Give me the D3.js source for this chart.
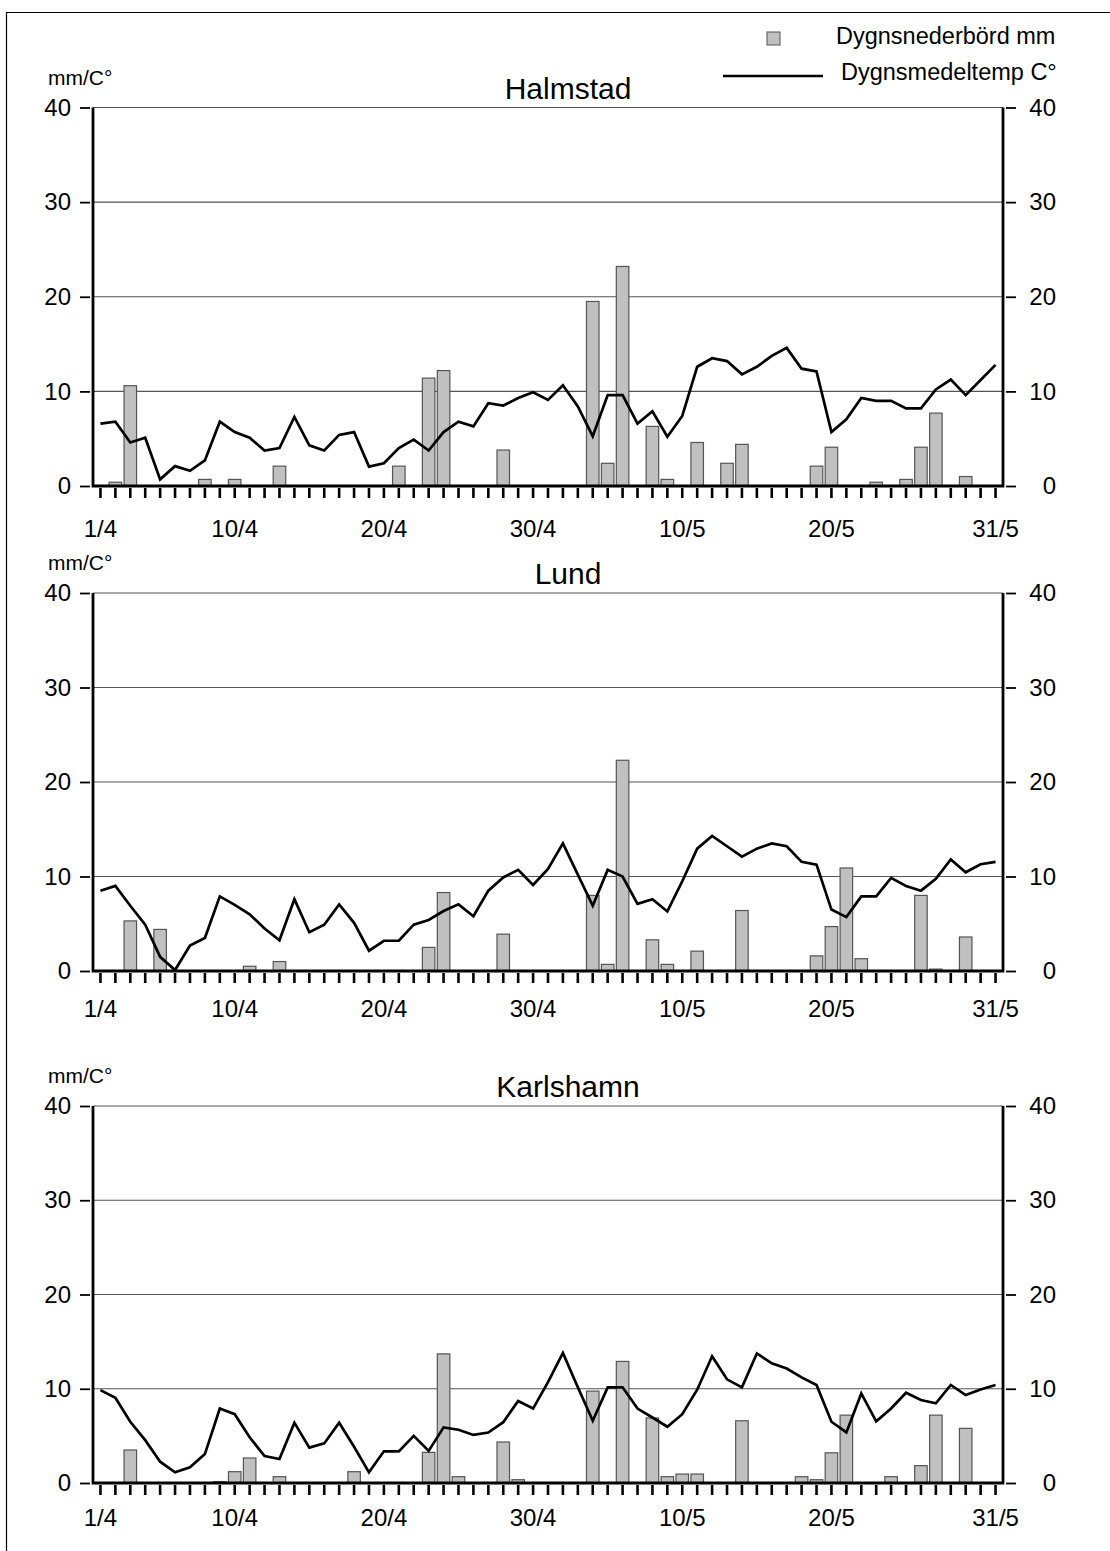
<!DOCTYPE html>
<html>
<head>
<meta charset="utf-8">
<script src="https://cdn.jsdelivr.net/npm/d3@7"></script>
<style>
  html, body { margin: 0; padding: 0; background: #fff; }
  svg { display: block; font-family: "Liberation Sans", Arial, sans-serif; }
</style>
</head>
<body>
<div id="chart"></div>
<script>
// ─── Data (1 April – 31 May) ───
const days = d3.range(61).map((i) => (i < 30 ? `${i + 1}/4` : `${i - 29}/5`));
const labelledDays = ["1/4", "10/4", "20/4", "30/4", "10/5", "20/5", "31/5"];
const yTicks = [0, 10, 20, 30, 40];

const halmstadTemp = [
  6.6, 6.8, 4.6, 5.1, 0.7, 2.1, 1.6, 2.7, 6.8, 5.7,
  5.1, 3.75, 4.0, 7.3, 4.3, 3.75, 5.4, 5.7, 2.05, 2.4,
  4.0, 4.9, 3.75, 5.7, 6.8, 6.3, 8.75, 8.5, 9.3, 9.9,
  9.1, 10.65, 8.4, 5.25, 9.6, 9.6, 6.6, 7.9, 5.2, 7.4,
  12.6, 13.5, 13.2, 11.8, 12.6, 13.75, 14.6, 12.4, 12.1, 5.7,
  7.05, 9.3, 9.0, 9.0, 8.2, 8.2, 10.2, 11.25, 9.6, 11.2,
  12.8,
];
const halmstadRain = [
  0, 0.4, 10.6, 0, 0, 0, 0, 0.7, 0, 0.7,
  0, 0, 2.1, 0, 0, 0, 0, 0, 0, 0,
  2.1, 0, 11.4, 12.2, 0, 0, 0, 3.8, 0, 0,
  0, 0, 0, 19.5, 2.4, 23.2, 0, 6.3, 0.7, 0,
  4.6, 0, 2.4, 4.4, 0, 0, 0, 0, 2.1, 4.1,
  0, 0, 0.4, 0, 0.7, 4.1, 7.7, 0, 1.0, 0,
  0,
];

const lundTemp = [
  8.5, 9.0, 6.9, 4.9, 1.5, 0.1, 2.7, 3.5, 7.9, 7.0,
  6.0, 4.5, 3.25, 7.6, 4.1, 4.9, 7.05, 5.1, 2.15, 3.2,
  3.2, 4.9, 5.4, 6.35, 7.05, 5.8, 8.5, 9.9, 10.7, 9.1,
  10.8, 13.5, 10.2, 6.9, 10.7, 10.0, 7.1, 7.6, 6.3, 9.5,
  12.95, 14.3, 13.2, 12.1, 12.95, 13.5, 13.2, 11.55, 11.25, 6.5,
  5.7, 7.9, 7.9, 9.85, 9.0, 8.5, 9.75, 11.8, 10.45, 11.3,
  11.55,
];
const lundRain = [
  0, 0, 5.3, 0, 4.4, 0, 0, 0, 0, 0,
  0.5, 0, 1.0, 0, 0, 0, 0, 0, 0, 0,
  0, 0, 2.5, 8.3, 0, 0, 0, 3.9, 0, 0,
  0, 0, 0, 8.0, 0.7, 22.3, 0, 3.3, 0.7, 0,
  2.1, 0, 0, 6.4, 0, 0, 0, 0, 1.6, 4.7,
  10.9, 1.3, 0, 0, 0, 8.0, 0.2, 0, 3.6, 0,
  0,
];

const karlshamnTemp = [
  9.85, 9.05, 6.5, 4.55, 2.26, 1.13, 1.66, 3.07, 7.9, 7.3,
  4.85, 2.86, 2.54, 6.4, 3.75, 4.2, 6.4, 3.85, 1.13, 3.36,
  3.36, 5.0, 3.4, 5.9, 5.65, 5.1, 5.35, 6.45, 8.7, 7.9,
  10.7, 13.8, 10.15, 6.6, 10.15, 10.15, 7.9, 6.95, 5.97, 7.3,
  9.9, 13.45, 11.0, 10.15, 13.75, 12.7, 12.15, 11.2, 10.4, 6.5,
  5.37, 9.5, 6.54, 7.9, 9.58, 8.8, 8.45, 10.4, 9.33, 9.93,
  10.4,
];
const karlshamnRain = [
  0, 0, 3.5, 0, 0, 0, 0, 0, 0.15, 1.2,
  2.65, 0, 0.67, 0, 0, 0, 0, 1.2, 0, 0,
  0, 0, 3.25, 13.7, 0.67, 0, 0, 4.35, 0.35, 0,
  0, 0, 0, 9.75, 0, 12.9, 0, 6.9, 0.67, 0.95,
  0.95, 0, 0, 6.6, 0, 0, 0, 0.67, 0.35, 3.2,
  7.2, 0, 0, 0.67, 0, 1.84, 7.2, 0, 5.8, 0,
  0,
];

// ─── Layout ───
const W = 1110;
const H = 1551;
const LEFT = 93;
const RIGHT = 1003;
const BAR_FILL = "#c0c0c0";
const BAR_STROKE = "#555";

const panels = [
  { name: "Halmstad", temp: halmstadTemp, rain: halmstadRain, top: 107.5, bottom: 486, labelPad: 22 },
  { name: "Lund", temp: lundTemp, rain: lundRain, top: 593, bottom: 971, labelPad: 17 },
  { name: "Karlshamn", temp: karlshamnTemp, rain: karlshamnRain, top: 1106, bottom: 1483, labelPad: 14 },
];

const svg = d3
  .select("#chart")
  .append("svg")
  .attr("width", W)
  .attr("height", H);

// outer frame (only left and top edges fall inside the picture)
svg
  .append("path")
  .attr("d", `M6.5,${H} V12.5 H${W}`)
  .attr("fill", "none")
  .attr("stroke", "#000")
  .attr("stroke-width", 1.2);

// ─── Legend ───
const legend = svg.append("g").attr("class", "legend");
legend
  .append("rect")
  .attr("x", 767)
  .attr("y", 32)
  .attr("width", 13)
  .attr("height", 13)
  .attr("fill", BAR_FILL)
  .attr("stroke", BAR_STROKE)
  .attr("stroke-width", 1);
legend
  .append("text")
  .attr("x", 836)
  .attr("y", 44)
  .style("font-size", "23.5px")
  .text("Dygnsnederbörd mm");
legend
  .append("line")
  .attr("x1", 723)
  .attr("x2", 823)
  .attr("y1", 76)
  .attr("y2", 76)
  .attr("stroke", "#000")
  .attr("stroke-width", 2.5);
legend
  .append("text")
  .attr("x", 841)
  .attr("y", 80)
  .style("font-size", "23.5px")
  .text("Dygnsmedeltemp C°");

// ─── Panels ───
panels.forEach(drawPanel);

function drawPanel(p) {
  const g = svg.append("g").attr("class", "panel");

  const x = d3
    .scaleBand()
    .domain(days)
    .range([LEFT, RIGHT])
    .paddingInner(0.16)
    .paddingOuter(0.08);
  const cx = (d) => x(d) + x.bandwidth() / 2;

  const y = d3.scaleLinear().domain([0, 40]).range([p.bottom, p.top]);

  // gridlines
  g.selectAll("line.grid")
    .data(yTicks.filter((t) => t > 0))
    .join("line")
    .attr("class", "grid")
    .attr("x1", LEFT)
    .attr("x2", RIGHT)
    .attr("y1", (d) => y(d))
    .attr("y2", (d) => y(d))
    .attr("stroke", "#555")
    .attr("stroke-width", 1.1);

  // precipitation bars
  const rainData = days
    .map((d, i) => ({ day: d, v: p.rain[i] }))
    .filter((d) => d.v > 0);
  g.selectAll("rect.bar")
    .data(rainData)
    .join("rect")
    .attr("class", "bar")
    .attr("x", (d) => x(d.day))
    .attr("width", x.bandwidth())
    .attr("y", (d) => y(d.v))
    .attr("height", (d) => p.bottom - y(d.v))
    .attr("fill", BAR_FILL)
    .attr("stroke", BAR_STROKE)
    .attr("stroke-width", 1.2);

  // temperature line
  const line = d3
    .line()
    .x((d) => cx(d.day))
    .y((d) => y(d.v));
  g.append("path")
    .datum(days.map((d, i) => ({ day: d, v: p.temp[i] })))
    .attr("d", line)
    .attr("fill", "none")
    .attr("stroke", "#000")
    .attr("stroke-width", 2.7)
    .attr("stroke-linejoin", "miter");

  // frame: left, right and bottom axis lines
  g.append("path")
    .attr("d", `M${LEFT},${p.top} V${p.bottom} H${RIGHT} V${p.top}`)
    .attr("fill", "none")
    .attr("stroke", "#000")
    .attr("stroke-width", 2.8);

  // left axis
  const yl = g
    .append("g")
    .attr("transform", `translate(${LEFT - 3},0)`)
    .call(d3.axisLeft(y).tickValues(yTicks).tickSize(10).tickPadding(9));
  yl.select(".domain").remove();
  yl.selectAll(".tick line").attr("stroke-width", 1.8);
  yl.selectAll("text").style("font-size", "24px").attr("fill", "#000");

  // right axis
  const yr = g
    .append("g")
    .attr("transform", `translate(${RIGHT + 3},0)`)
    .call(d3.axisRight(y).tickValues(yTicks).tickSize(10));
  yr.select(".domain").remove();
  yr.selectAll(".tick line").attr("stroke-width", 1.8);
  yr.selectAll("text")
    .attr("x", 50)
    .attr("text-anchor", "end")
    .style("font-size", "24px")
    .attr("fill", "#000");

  // bottom axis: a tick for every day, labels on selected days
  const xb = g
    .append("g")
    .attr("transform", `translate(0,${p.bottom + 2})`)
    .call(
      d3
        .axisBottom(x)
        .tickSize(10)
        .tickPadding(p.labelPad)
        .tickFormat((d) => (labelledDays.includes(d) ? d : "")),
    );
  xb.select(".domain").remove();
  xb.selectAll(".tick line").attr("stroke-width", 2.6);
  xb.selectAll("text").style("font-size", "24px").attr("fill", "#000");

  // unit label and station title
  g.append("text")
    .attr("x", 48)
    .attr("y", p.top - 23)
    .style("font-size", "21px")
    .text("mm/C°");
  g.append("text")
    .attr("x", 568)
    .attr("y", p.top - 9)
    .attr("text-anchor", "middle")
    .style("font-size", "30px")
    .text(p.name);
}
</script>
</body>
</html>
